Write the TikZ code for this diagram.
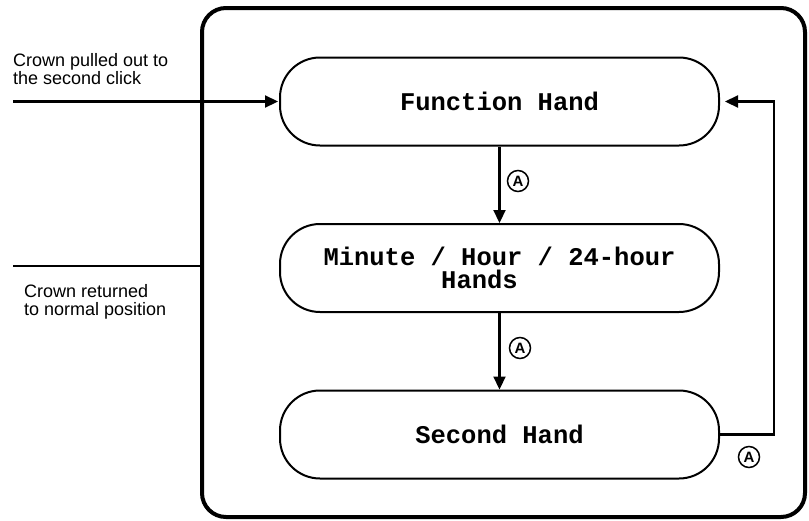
\documentclass[tikz,border=0pt]{standalone}
\usepackage{fontspec}
\setmainfont{Liberation Sans}
\newfontfamily\monofont{Liberation Mono}
\usetikzlibrary{arrows.meta}
\begin{document}
\begin{tikzpicture}[x=1pt,y=-1pt,
  handbox/.style={draw,line width=2pt,rounded corners=40pt,minimum width=439pt,minimum height=88pt,inner sep=0pt,align=center,font=\monofont\bfseries\fontsize{25.5}{23}\selectfont},
  flow/.style={line width=2.2pt,-{Triangle[length=13pt,width=12pt]}},
  circA/.style={draw,circle,line width=1.5pt,inner sep=0pt,minimum size=21pt,font=\bfseries\fontsize{15}{15}\selectfont},
  note/.style={anchor=north west,align=left,inner sep=0pt,font=\fontsize{18}{18}\selectfont}]
\useasboundingbox (0,0) rectangle (809,520);
\node[draw,line width=4pt,rounded corners=24pt,minimum width=603pt,minimum height=509pt,inner sep=0pt] (frame) at (503.5,262.5) {};
\node[handbox] (fh) at (499.5,101.5) {Function Hand};
\node[handbox] (mh) at (499.5,268) {Minute / Hour / 24-hour\\Hands\hspace*{40pt}};
\node[handbox] (sh) at (499.5,434.5) {Second Hand};
\draw[flow] (fh.south) -- (mh.north);
\draw[flow] (mh.south) -- (sh.north);
\coordinate (turn1) at (774,434.5);
\coordinate (turn2) at (774,101.5);
\draw[flow,shorten >=5pt] (sh.east) -- (turn1) -- (turn2) -- (fh.east);
\node[circA] (a1) at (518,181) {A};
\node[circA] (a2) at (520,348) {A};
\node[circA] (a3) at (749,457) {A};
\coordinate (in1) at (13,101.5);
\draw[flow,shorten >=1pt] (in1) -- (fh.west);
\coordinate (out1) at (13,266);
\draw[line width=2.2pt] (out1) -- (frame.west |- out1);
\node[note] (lab1) at (13,53) {Crown pulled out to\\the second click};
\node[note] (lab2) at (24,284) {Crown returned\\to normal position};
\end{tikzpicture}
\end{document}
